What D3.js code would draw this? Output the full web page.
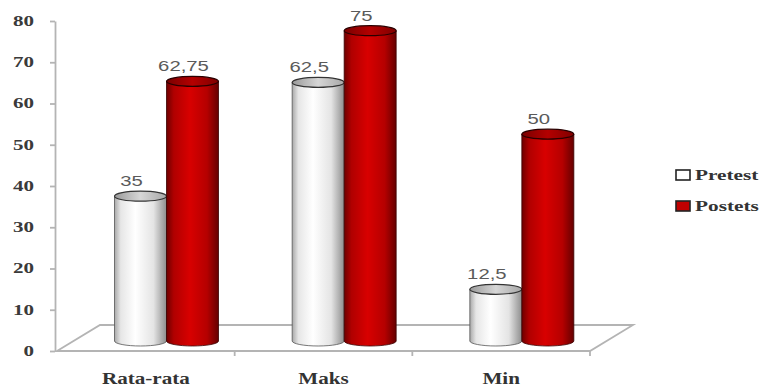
<!DOCTYPE html>
<html><head><meta charset="utf-8">
<script src="https://cdn.jsdelivr.net/npm/d3@7"></script>
<style>body{margin:0;background:#fff}svg{display:block}</style>
</head><body>
<svg id="c" width="763" height="386"></svg>
<script>
const categories = ["Rata-rata", "Maks", "Min"];
const seriesNames = ["Pretest", "Postets"];
const pretest = [35, 62.5, 12.5];
const postets = [62.75, 75, 50];
const valueLabels = [["35", "62,5", "12,5"], ["62,75", "75", "50"]];
const yTicks = [0, 10, 20, 30, 40, 50, 60, 70, 80];

const svg = d3.select("#c");
const defs = svg.append("defs");

function grad(id, stops) {
  const g = defs.append("linearGradient").attr("id", id).attr("x1", "0%").attr("x2", "100%").attr("y1", "0%").attr("y2", "0%");
  stops.forEach(s => g.append("stop").attr("offset", s[0]).attr("stop-color", s[1]));
}
grad("gW", [["0%", "#a8a8a8"], ["12%", "#e6e6e6"], ["40%", "#ffffff"], ["75%", "#e4e4e4"], ["100%", "#8e8e8e"]]);
grad("gR", [["0%", "#6e0000"], ["14%", "#b00000"], ["45%", "#d80000"], ["78%", "#b50000"], ["100%", "#650000"]]);
grad("gWt", [["0%", "#9a9a9a"], ["50%", "#d6d6d6"], ["100%", "#a8a8a8"]]);
grad("gRt", [["0%", "#7a0000"], ["50%", "#b40000"], ["100%", "#800000"]]);

const yAxisScale = d3.scaleLinear().domain([0, 80]).range([351, 21]);
const yBar = d3.scaleLinear().domain([0, 80]).range([341, 10]);
const x0 = d3.scaleBand().domain(categories).range([57, 590]).paddingInner(0).paddingOuter(0);
const x1 = d3.scaleBand().domain(seriesNames).range([57.5, 161.5]).paddingInner(0);

const gridCol = "#b4b4b4";

// floor
svg.append("path")
  .attr("d", `M57,351 L100,325 L633,325 L590,351 Z`)
  .attr("fill", "#fff").attr("stroke", gridCol).attr("stroke-width", 1.8);

// category separator ticks
const seps = categories.map(c => x0(c) + x0.bandwidth()).concat([]);
svg.selectAll(".sep").data(seps).enter().append("line")
  .attr("x1", d => d).attr("x2", d => d).attr("y1", 351).attr("y2", 356)
  .attr("stroke", gridCol).attr("stroke-width", 1.8);

// y axis
const ax = svg.append("g").attr("transform", "translate(55,0)")
  .call(d3.axisLeft(yAxisScale).tickValues(yTicks).tickSize(5).tickSizeOuter(0).tickFormat(d3.format("d")));
ax.select(".domain").attr("stroke", gridCol).attr("stroke-width", 1.8);
ax.selectAll(".tick line").attr("stroke", gridCol).attr("stroke-width", 1.8);
ax.selectAll(".tick text")
  .attr("font-family", "Liberation Serif, serif").attr("font-weight", "bold")
  .attr("font-size", 14).attr("fill", "#3a3a3a")
  .attr("x", -21 / 1.5).attr("transform", "scale(1.5,1)");

// bars
const ry = 5;
const data = [];
categories.forEach((c, i) => {
  data.push({ cat: c, s: 0, v: pretest[i], lab: valueLabels[0][i] });
  data.push({ cat: c, s: 1, v: postets[i], lab: valueLabels[1][i] });
});
const bars = svg.selectAll(".bar").data(data).enter().append("g");
bars.each(function (d) {
  const g = d3.select(this);
  const bx = x0(d.cat) + x1(seriesNames[d.s]);
  const w = x1.bandwidth();
  const cx = bx + w / 2;
  const top = yBar(d.v), base = yBar(0);
  const rx = w / 2;
  const body = d.s === 0 ? "url(#gW)" : "url(#gR)";
  const topF = d.s === 0 ? "url(#gWt)" : "url(#gRt)";
  const edge = d.s === 0 ? "#555" : "#3a0000";
  g.append("path")
    .attr("d", `M${bx},${top} L${bx},${base} A${rx},${ry} 0 0 0 ${bx + w},${base} L${bx + w},${top} Z`)
    .attr("fill", body).attr("stroke", edge).attr("stroke-width", 0.8);
  g.append("ellipse").attr("cx", cx).attr("cy", top).attr("rx", rx).attr("ry", ry)
    .attr("fill", topF).attr("stroke", d.s === 0 ? "#333" : "#2a0000").attr("stroke-width", 1.2);
  g.append("text")
    .attr("transform", `translate(${cx - 9},${top - ry - 5}) scale(1.45,1)`)
    .attr("text-anchor", "middle")
    .attr("font-family", "Liberation Sans, Arial, sans-serif").attr("font-size", 14)
    .attr("fill", "#5a5a5a").text(d.lab);
});

// category labels
svg.selectAll(".cat").data(categories).enter().append("text")
  .attr("transform", d => `translate(${x0(d) + x0.bandwidth() / 2},384) scale(1.32,1)`)
  .attr("text-anchor", "middle")
  .attr("font-family", "Liberation Serif, serif").attr("font-weight", "bold")
  .attr("font-size", 16).attr("fill", "#333").text(d => d);

// legend
const legY = [170, 201];
const lg = svg.selectAll(".leg").data(seriesNames).enter().append("g");
lg.append("rect").attr("x", 676).attr("y", (d, i) => legY[i]).attr("width", 14).attr("height", 10)
  .attr("fill", (d, i) => i === 0 ? "#fff" : "#c00000").attr("stroke", "#222").attr("stroke-width", 1.6);
lg.append("text")
  .attr("transform", (d, i) => `translate(695,${legY[i] + 10}) scale(1.42,1)`)
  .attr("font-family", "Liberation Serif, serif").attr("font-weight", "bold")
  .attr("font-size", 15).attr("fill", "#333").text(d => d);
</script>
</body></html>
